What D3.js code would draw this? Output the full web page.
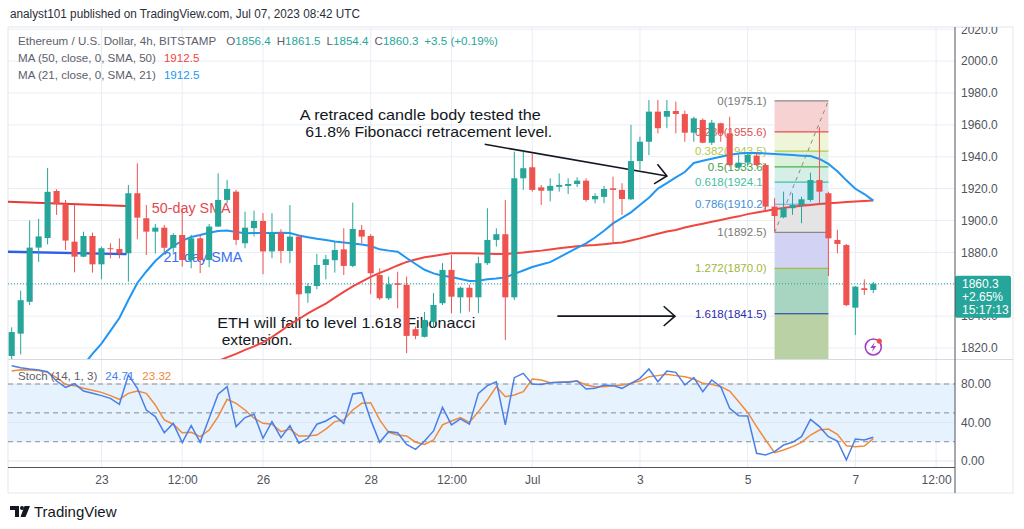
<!DOCTYPE html>
<html>
<head>
<meta charset="utf-8">
<script src="https://cdn.jsdelivr.net/npm/d3@7"></script>
<style>
  body { margin: 0; background: #fff; }
  text { font-family: "Liberation Sans", Arial, sans-serif; }
</style>
</head>
<body>
<div id="chart-area"></div>
<script>
// ETH/USD 4h bars, Jun 21 08:00 -> Jul 7 08:00 (UTC)
const START = Date.UTC(2023, 5, 21, 8)
const BAR = 4 * 3600 * 1000

const opens = [1815, 1829, 1849, 1883, 1889, 1918.5, 1910.2, 1886.7, 1877.3, 1890.3,
  1872.5, 1882.6, 1882.1, 1879.4, 1917.1, 1901.4, 1893, 1895.5, 1882.9, 1890.9,
  1875.2, 1888.8, 1875.2, 1896.2, 1912.9, 1918.1, 1885.7, 1895.2, 1899.7, 1880.6,
  1892.3, 1880.9, 1889.9, 1854.3, 1858.9, 1872.1, 1875.1, 1881.9, 1871.5, 1894.1,
  1890.3, 1865.8, 1851.2, 1860.6, 1859.6, 1831.8, 1827, 1836.3, 1848.1, 1869,
  1851.8, 1857.8, 1851.8, 1873.2, 1887.8, 1891.4, 1851.8, 1926.5, 1933.4, 1920.8,
  1918.7, 1921.1, 1921.7, 1922.9, 1925, 1913.3, 1914.8, 1920.2, 1919.2, 1913.3,
  1937.3, 1949.4, 1968.3, 1965.1, 1968.7, 1966.8, 1955.1, 1963.1, 1948.8, 1961,
  1954.7, 1933.4, 1936.3, 1940.7, 1934.8, 1908.7, 1902, 1907.7, 1909.7, 1912.9,
  1925.4, 1917.1, 1887.8, 1884.6, 1845.3, 1857.5, 1856.4]
const highs = [1833, 1856, 1900, 1901, 1933, 1919.6, 1912.9, 1910.2, 1893, 1892.4,
  1883.6, 1885.7, 1888.8, 1922.3, 1935.9, 1909.7, 1897.8, 1897.2, 1892, 1907.7,
  1891, 1891, 1897.8, 1929.6, 1925.5, 1919.2, 1905.5, 1906.2, 1904.6, 1904.6,
  1894.5, 1909.7, 1890.9, 1860.6, 1879, 1878.4, 1886.7, 1895.1, 1911.2, 1897.2,
  1891.4, 1870, 1864.8, 1867.9, 1864.8, 1833.4, 1842.6, 1854.5, 1873.2, 1878.4,
  1858.5, 1859.6, 1877.3, 1907.7, 1895.1, 1912.9, 1943.2, 1943.2, 1942.2, 1922.3,
  1926.5, 1929.6, 1926.5, 1927.1, 1926.5, 1917.1, 1921.8, 1927.5, 1923.4, 1960,
  1952.6, 1975.6, 1975.6, 1975.6, 1974.6, 1968.9, 1965.1, 1964.1, 1963.1, 1961.4,
  1965.1, 1941.1, 1942.2, 1942.2, 1935.9, 1914, 1918.1, 1917.1, 1914.9, 1930,
  1958.5, 1918.1, 1894.1, 1885.3, 1858.9, 1863.1, 1861.5]
const lows = [1810, 1816, 1847, 1874, 1885, 1903.5, 1881.5, 1867.5, 1877, 1867.3,
  1863.1, 1876.3, 1876.3, 1861.6, 1888.2, 1878.4, 1879.3, 1879.9, 1879.9, 1871,
  1870, 1867, 1870.7, 1896, 1910.9, 1884.6, 1882.6, 1890, 1866.3, 1876.3,
  1873.2, 1873.2, 1839.7, 1848.4, 1856.9, 1863.1, 1867.3, 1865.8, 1870.7, 1885.7,
  1853.7, 1850.1, 1850.1, 1844.9, 1816.7, 1825.5, 1826.6, 1832.6, 1847, 1841.8,
  1841.8, 1842.8, 1841.8, 1872.1, 1883.6, 1825, 1850.1, 1919.2, 1918.1, 1909.7,
  1912, 1918.1, 1916.6, 1921, 1911.8, 1910.8, 1910.8, 1885.3, 1903.5, 1912.9,
  1931.7, 1941, 1954.7, 1957.9, 1954.7, 1949.4, 1949.4, 1948.5, 1947.4, 1949.4,
  1933.8, 1932.8, 1933.8, 1934.2, 1906.6, 1893, 1901.4, 1903.5, 1898.3, 1911.8,
  1909.7, 1865.2, 1879.4, 1846.3, 1828.2, 1853.3, 1854.4]
const closes = [1830, 1850, 1883, 1890, 1918, 1910.2, 1887.4, 1877.3, 1890.3, 1872.5,
  1882.6, 1882, 1879.4, 1917.1, 1901.8, 1893, 1895.5, 1882.9, 1890.9, 1875.2,
  1888.8, 1875.2, 1896.2, 1912.9, 1919.8, 1887.8, 1895.5, 1899.7, 1880.6, 1892.3,
  1880.9, 1889.9, 1853.7, 1858.9, 1872.1, 1875.7, 1881.5, 1871.5, 1894.7, 1889.9,
  1866.9, 1851.2, 1860, 1859.6, 1827.6, 1827.6, 1837.6, 1847, 1869, 1852.2,
  1857.8, 1851.8, 1873.2, 1887.8, 1891.4, 1851.8, 1926.5, 1932.8, 1919.2, 1918.7,
  1921.7, 1922.3, 1922.9, 1925, 1912.9, 1915.4, 1919.8, 1919.2, 1913.5, 1937.3,
  1949.4, 1968.3, 1957.9, 1968.7, 1966.8, 1955.1, 1964.1, 1948.8, 1961.4, 1954.7,
  1934.8, 1936.3, 1941.1, 1934.8, 1908.7, 1902.8, 1907.7, 1909.7, 1913.3, 1925.4,
  1918.1, 1888.8, 1885.3, 1846.9, 1858.5, 1856.4, 1860.3]

const ma21 = [null, null, null, null, null, null, null, null, 1809.4, 1816.3,
  1822.8, 1830.7, 1838.8, 1850.1, 1860.8, 1868, 1874.6, 1879.6, 1884, 1887.2,
  1889.7, 1890.9, 1892.3, 1893.4, 1893.7, 1892.8, 1892, 1892.1, 1892.2, 1892.2,
  1892.3, 1892.2, 1890.6, 1889.5, 1888.5, 1887.7, 1886.8, 1886.2, 1885.6, 1885,
  1884, 1881.9, 1881.1, 1880.4, 1876.5, 1872.7, 1869.1, 1866.8, 1865.4, 1864.6,
  1863.3, 1862.1, 1862.2, 1863.1, 1863.6, 1864.3, 1866.5, 1868.6, 1870.8, 1872.4,
  1873.9, 1876.8, 1879.9, 1882.8, 1885.7, 1889.3, 1893.6, 1898.2, 1901.6, 1905.1,
  1909.7, 1914.3, 1920, 1923.5, 1927.1, 1930.4, 1936.1, 1937.5, 1938.8, 1940,
  1941.2, 1942, 1942.4, 1942.4, 1942.1, 1941.7, 1941.4, 1941.1, 1940.7, 1940.4,
  1938.6, 1935.5, 1930.9, 1925.2, 1919.9, 1916.6, 1912.5]
const ma50 = [null, null, null, null, null, null, null, null, null, null,
  null, null, null, null, null, null, null, null, null, null,
  null, null, null, 1811.9, 1814.1, 1816.3, 1818.8, 1821, 1823.5, 1826.9,
  1830.7, 1834.8, 1838.2, 1841.7, 1844.8, 1847.9, 1851.6, 1855.2, 1858.6, 1861.7,
  1864.6, 1867.1, 1869.3, 1871.8, 1874, 1875.5, 1876.9, 1877.7, 1878.6, 1879.4,
  1879.4, 1879.4, 1879.3, 1879.1, 1879, 1879, 1879.4, 1879.9, 1880.6, 1881.1,
  1881.8, 1882.6, 1883.2, 1883.8, 1884.3, 1884.6, 1885.1, 1885.7, 1886.2, 1887.5,
  1888.8, 1890.3, 1891.7, 1893.1, 1894.1, 1895.6, 1896.9, 1898, 1899.2, 1900.3,
  1901.6, 1902.6, 1904, 1905, 1906, 1907.1, 1907.9, 1908.7, 1909.2, 1909.7,
  1910.4, 1910.9, 1911.2, 1911.6, 1911.9, 1912.2, 1912.5]

const stochK = [99, 97, 95.6, 94.5, 92.8, 83.1, 76.5, 80.3, 72.7, 70.3,
  67.9, 65.1, 58.9, 89.4, 75.5, 53, 46.1, 29.4, 39.1, 19.2,
  36.8, 19.5, 44.4, 69.3, 77.2, 35.7, 45.1, 48.5, 23.6, 40.9,
  24.3, 36.8, 18.5, 23.6, 38.2, 41.6, 47.2, 39.1, 69.6, 71,
  42.7, 19.5, 30.5, 29.4, 17.3, 12.1, 20.8, 31.2, 55.7, 37.5,
  43.7, 38.2, 70.3, 78.3, 82.4, 37.5, 86.6, 91.1, 80, 79.6,
  81.4, 81.7, 81.7, 83.1, 74.8, 75.5, 79, 78.3, 75.5, 80.7,
  85.9, 95.6, 82.4, 93.5, 92.1, 79, 86.6, 72, 84.2, 77.2,
  54.7, 47.1, 46.8, 8, 6.2, 9.7, 16.6, 19.4, 25.3, 43.3,
  35.7, 25.3, 20.8, 1.1, 22.9, 21.8, 24.71]
const stochD = [93.5, 94.9, 94.5, 93.9, 92.1, 86.6, 79.6, 78.3, 75.5, 73.4,
  71.3, 67.9, 64.1, 70.3, 72.7, 70.3, 58.2, 42.7, 38.2, 29.4,
  29.8, 25.3, 32.2, 46.1, 64.1, 59.9, 53, 44.4, 39.1, 38.2,
  30.5, 33.2, 26, 26, 27, 33.2, 40.9, 42.7, 53, 59.9,
  60.6, 42.7, 29.8, 27, 26, 19.5, 17.3, 21.8, 37.5, 41.6,
  45.1, 40.2, 51.3, 63.4, 77.2, 66.8, 68.6, 72, 85.2, 84.2,
  81.4, 81.7, 82.4, 83.1, 79, 77.2, 77.2, 78.3, 79, 80.7,
  83.1, 87.6, 88.7, 90, 88.7, 87.6, 85.2, 80.7, 79.6, 77.2,
  72.7, 61.6, 50.5, 35.7, 21.8, 8.7, 11.5, 14.9, 19.4, 27,
  32.2, 33.2, 27.7, 15.9, 14.9, 15.6, 23.32]

const timeTicks = [Date.UTC(2023, 5, 23), Date.UTC(2023, 5, 24, 12), Date.UTC(2023, 5, 26),
  Date.UTC(2023, 5, 28), Date.UTC(2023, 5, 29, 12), Date.UTC(2023, 6, 1), Date.UTC(2023, 6, 3),
  Date.UTC(2023, 6, 5), Date.UTC(2023, 6, 7), Date.UTC(2023, 6, 8, 12)]
const timeLabels = ["23", "12:00", "26", "28", "12:00", "Jul", "3", "5", "7", "12:00"]
const priceTicks = [1820, 1840, 1860, 1880, 1900, 1920, 1940, 1960, 1980, 2000, 2020]
const stochTicks = [0, 40, 80]
const stochLevels = [80, 50, 20]

// fibonacci tool, anchored from bar 85 (level 1) to bar 91 (level 0)
const fibRatios = [0, 0.236, 0.382, 0.5, 0.618, 0.786, 1, 1.272, 1.618, 2.618]
const fibPrices = [1975.1, 1955.6, 1943.5, 1933.6, 1924.1, 1910.2, 1892.5, 1870.0, 1841.5, 1758.9]
const fibLine = ["#8a8a8a", "#e05050", "#b3c74a", "#4caf50", "#3fbfa0", "#5aa6e6", "#8a8a8a", "#a9bb3c", "#1f2fa8", "#8a8a8a"]
const fibText = ["#787878", "#e05050", "#b3c74a", "#43a047", "#45c0a0", "#3f8fd6", "#787878", "#a3b53a", "#2b2bb0", "#787878"]
const fibFill = ["#f6d2d2", "#eef5d9", "#dcf1dc", "#d6efe6", "#d6e9f6", "#e4e4e4", "#d2d2f4", "#a8d5c1", "#b9d1a5"]
const fibFrom = 85, fibTo = 91

const W = 1024, H = 529
const PANE = { LEFT: 8, RIGHT: 955, TOP: 27, BOTTOM: 359 }
const STO = { TOP: 360, BOTTOM: 467.5 }

const barTime = i => new Date(START + i * BAR)

const x = d3.scaleUtc()
  .domain([barTime(0), barTime(96)])
  .range([11.7, 873.3])
const y = d3.scaleLinear().domain([1820, 1980]).range([348, 93])
const ys = d3.scaleLinear().domain([0, 80]).range([461, 384])

const svg = d3.select("#chart-area").append("svg")
  .attr("width", W)
  .attr("height", H)

const defs = svg.append("defs")
defs.append("clipPath").attr("id", "clip-price").append("rect")
  .attr("x", PANE.LEFT).attr("y", PANE.TOP)
  .attr("width", PANE.RIGHT - PANE.LEFT).attr("height", PANE.BOTTOM - PANE.TOP)
defs.append("clipPath").attr("id", "clip-sto").append("rect")
  .attr("x", PANE.LEFT).attr("y", STO.TOP)
  .attr("width", PANE.RIGHT - PANE.LEFT).attr("height", STO.BOTTOM - STO.TOP)
defs.append("clipPath").attr("id", "clip-axis").append("rect")
  .attr("x", PANE.RIGHT).attr("y", PANE.TOP)
  .attr("width", 60).attr("height", PANE.BOTTOM - PANE.TOP)

// Header
svg.append("text")
  .attr("x", 10).attr("y", 18)
  .attr("font-size", "12px").attr("fill", "#2a2e39")
  .attr("textLength", 350).attr("lengthAdjust", "spacingAndGlyphs")
  .text("analyst101 published on TradingView.com, Jul 07, 2023 08:42 UTC")

// Frame
svg.append("rect")
  .attr("x", 8).attr("y", 27).attr("width", 1005).attr("height", 466)
  .attr("fill", "#fff").attr("stroke", "#e3e6ee")

// Grid
const grid = svg.append("g")
grid.selectAll(".vgrid").data(timeTicks).enter().append("line")
  .attr("x1", d => x(d)).attr("x2", d => x(d))
  .attr("y1", PANE.TOP).attr("y2", STO.BOTTOM)
  .attr("stroke", "#e9edf4")
grid.append("g").attr("clip-path", "url(#clip-price)")
  .selectAll("line").data(priceTicks).enter().append("line")
  .attr("x1", PANE.LEFT).attr("x2", PANE.RIGHT)
  .attr("y1", d => y(d)).attr("y2", d => y(d))
  .attr("stroke", "#e9edf4")

// Fibonacci fills, lines, labels
const fib = svg.append("g").attr("clip-path", "url(#clip-price)")
const fx0 = x(barTime(fibFrom)), fx1 = x(barTime(fibTo))
fib.selectAll("rect").data(fibFill).enter().append("rect")
  .attr("x", fx0).attr("width", fx1 - fx0)
  .attr("y", (d, i) => y(fibPrices[i]))
  .attr("height", (d, i) => y(fibPrices[i + 1]) - y(fibPrices[i]))
  .attr("fill", d => d)
fib.selectAll(".fl").data(fibPrices).enter().append("line")
  .attr("x1", fx0).attr("x2", fx1)
  .attr("y1", d => y(d)).attr("y2", d => y(d))
  .attr("stroke", (d, i) => fibLine[i]).attr("stroke-width", 1.2)
fib.selectAll(".ft").data(fibPrices).enter().append("text")
  .attr("x", fx0 - 8).attr("y", d => y(d))
  .attr("dy", "0.35em").attr("text-anchor", "end")
  .attr("font-size", "11.5px")
  .attr("fill", (d, i) => fibText[i])
  .text((d, i) => `${fibRatios[i]}(${d.toFixed(1)})`)
fib.append("line")
  .attr("x1", fx0).attr("y1", y(fibPrices[6]))
  .attr("x2", fx1).attr("y2", y(fibPrices[0]))
  .attr("stroke", "#8a8a8a").attr("stroke-dasharray", "4,4")

// Annotations (anchored to bar index / price)
const px = i => x(new Date(START + i * BAR))
const notes = svg.append("g").attr("clip-path", "url(#clip-price)")

const segs = [
  { a: [-0.6, 1911.8], b: [12.8, 1909.1], color: "#e53935", w: 2 },
  { a: [-0.6, 1880.4], b: [12.8, 1878.9], color: "#2f5ee8", w: 2.4 },
]
segs.forEach(s => {
  notes.append("line")
    .attr("x1", px(s.a[0])).attr("y1", y(s.a[1]))
    .attr("x2", px(s.b[0])).attr("y2", y(s.b[1]))
    .attr("stroke", s.color).attr("stroke-width", s.w)
})

const arrows = [
  { a: [52.7, 1947.8], b: [73.0, 1927.9] },
  { a: [60.8, 1840.0], b: [73.9, 1840.0] },
]
arrows.forEach(s => {
  const x1 = px(s.a[0]), y1 = y(s.a[1]), x2 = px(s.b[0]), y2 = y(s.b[1])
  const ang = Math.atan2(y2 - y1, x2 - x1)
  const L = 15
  notes.append("line")
    .attr("x1", x1).attr("y1", y1).attr("x2", x2).attr("y2", y2)
    .attr("stroke", "#131722").attr("stroke-width", 1.6)
  notes.append("path")
    .attr("d", `M${x2 + L * Math.cos(ang + Math.PI - 0.72)},${y2 + L * Math.sin(ang + Math.PI - 0.72)}L${x2},${y2}L${x2 + L * Math.cos(ang + Math.PI + 0.72)},${y2 + L * Math.sin(ang + Math.PI + 0.72)}`)
    .attr("fill", "none").attr("stroke", "#131722").attr("stroke-width", 1.6)
})

const labels = [
  { t: "A retraced candle body tested the", at: [32.1, 1963.1], color: "#131722", size: 15, len: 241 },
  { t: "61.8% Fibonacci retracement level.", at: [32.7, 1952.7], color: "#131722", size: 15, len: 247 },
  { t: "ETH will fall to level 1.618 Fibonacci", at: [22.9, 1832.6], color: "#131722", size: 15, len: 258 },
  { t: "extension.", at: [23.4, 1821.9], color: "#131722", size: 15, len: 71 },
  { t: "50-day SMA", at: [15.6, 1904.7], color: "#e5484d", size: 15, len: 79 },
  { t: "21-day SMA", at: [16.9, 1874.0], color: "#3b6ff0", size: 15, len: 79 },
]
labels.forEach(l => {
  notes.append("text")
    .attr("x", px(l.at[0])).attr("y", y(l.at[1]))
    .attr("font-size", l.size + "px").attr("fill", l.color)
    .attr("textLength", l.len).attr("lengthAdjust", "spacingAndGlyphs")
    .text(l.t)
})

// Last price dotted line
svg.append("line")
  .attr("x1", PANE.LEFT).attr("x2", PANE.RIGHT)
  .attr("y1", y(closes[96])).attr("y2", y(closes[96]))
  .attr("stroke", "#26a69a").attr("stroke-dasharray", "1,2")

// Moving averages
const idx = d3.range(opens.length)
const maLine = arr => d3.line()
  .defined(i => arr[i] != null)
  .x(i => x(barTime(i)))
  .y(i => y(arr[i]))
const lines = svg.append("g").attr("clip-path", "url(#clip-price)")
lines.append("path").attr("d", maLine(ma50)(idx))
  .attr("fill", "none").attr("stroke", "#f0463f").attr("stroke-width", 2)
lines.append("path").attr("d", maLine(ma21)(idx))
  .attr("fill", "none").attr("stroke", "#2196f3").attr("stroke-width", 2)

// Candles
const bw = (x(barTime(1)) - x(barTime(0))) * 0.68
const candles = svg.append("g").attr("clip-path", "url(#clip-price)")
  .selectAll("g").data(idx).enter().append("g")
const col = i => closes[i] >= opens[i] ? "#26a69a" : "#ef5350"
candles.append("line")
  .attr("x1", i => x(barTime(i))).attr("x2", i => x(barTime(i)))
  .attr("y1", i => y(highs[i])).attr("y2", i => y(lows[i]))
  .attr("stroke", col).attr("stroke-width", 1)
candles.append("rect")
  .attr("x", i => x(barTime(i)) - bw / 2)
  .attr("width", bw)
  .attr("y", i => y(Math.max(opens[i], closes[i])))
  .attr("height", i => Math.max(1, Math.abs(y(opens[i]) - y(closes[i]))))
  .attr("fill", col)

// Legend
const leg = svg.append("g").attr("font-size", "11.6px")
const l1 = leg.append("text").attr("x", 18).attr("y", 45).attr("fill", "#5d606b")
l1.append("tspan").text("Ethereum / U.S. Dollar, 4h, BITSTAMP")
const ohlc = [["O", opens[96]], ["H", highs[96]], ["L", lows[96]], ["C", closes[96]]]
ohlc.forEach((d, i) => {
  l1.append("tspan").attr("dx", i === 0 ? 10 : 6).attr("fill", "#5d606b").text(d[0])
  l1.append("tspan").attr("fill", "#26a69a").text(d[1].toFixed(1))
})
l1.append("tspan").attr("dx", 6).attr("fill", "#26a69a").text("+3.5 (+0.19%)")
const l2 = leg.append("text").attr("x", 18).attr("y", 62).attr("fill", "#5d606b")
l2.append("tspan").text("MA (50, close, 0, SMA, 50)")
l2.append("tspan").attr("dx", 8).attr("fill", "#f0463f").text(ma50[96].toFixed(1))
const l3 = leg.append("text").attr("x", 18).attr("y", 79).attr("fill", "#5d606b")
l3.append("tspan").text("MA (21, close, 0, SMA, 21)")
l3.append("tspan").attr("dx", 8).attr("fill", "#2196f3").text(ma21[96].toFixed(1))

// Price axis
const yAxis = svg.append("g")
  .attr("clip-path", "url(#clip-axis)")
  .append("g")
  .attr("transform", `translate(${PANE.RIGHT}, 0)`)
  .call(d3.axisRight(y).tickValues(priceTicks).tickFormat(d3.format(".1f")).tickSize(0).tickPadding(6))
yAxis.select(".domain").remove()
yAxis.selectAll("text").attr("fill", "#50535e").attr("font-size", "12px")
  .attr("font-family", "Liberation Sans, Arial, sans-serif")

// Last price badge
const by = y(closes[96])
svg.append("rect")
  .attr("x", PANE.RIGHT).attr("y", by - 8).attr("width", 56).attr("height", 42)
  .attr("rx", 2).attr("fill", "#26a69a")
const badge = ["1860.3", "+2.65%", "15:17:13"]
svg.append("g").selectAll("text").data(badge).enter().append("text")
  .attr("x", PANE.RIGHT + 7).attr("y", (d, i) => by + 4.5 + i * 13)
  .attr("font-size", "12px").attr("fill", "#fff")
  .text(d => d)

// Pane separator
svg.append("line")
  .attr("x1", PANE.LEFT).attr("x2", 1013)
  .attr("y1", PANE.BOTTOM + 0.5).attr("y2", PANE.BOTTOM + 0.5)
  .attr("stroke", "#d6dae3")

// Stochastic pane
const sto = svg.append("g").attr("clip-path", "url(#clip-sto)")
sto.append("rect")
  .attr("x", PANE.LEFT).attr("width", PANE.RIGHT - PANE.LEFT)
  .attr("y", ys(80)).attr("height", ys(20) - ys(80))
  .attr("fill", "#e6f2fd")
sto.selectAll(".sg").data(stochTicks).enter().append("line")
  .attr("x1", PANE.LEFT).attr("x2", PANE.RIGHT)
  .attr("y1", d => ys(d)).attr("y2", d => ys(d))
  .attr("stroke", "#dfe6f0")
sto.selectAll(".sl").data(stochLevels).enter().append("line")
  .attr("x1", PANE.LEFT).attr("x2", PANE.RIGHT)
  .attr("y1", d => ys(d)).attr("y2", d => ys(d))
  .attr("stroke", "#888c96").attr("stroke-dasharray", "5,4")
const stoLine = arr => d3.line().x(i => x(barTime(i))).y(i => ys(arr[i]))
sto.append("path").attr("d", stoLine(stochD)(idx))
  .attr("fill", "none").attr("stroke", "#f08a3c").attr("stroke-width", 1.5)
sto.append("path").attr("d", stoLine(stochK)(idx))
  .attr("fill", "none").attr("stroke", "#4a7ee8").attr("stroke-width", 1.5)

const sl = svg.append("text").attr("x", 18).attr("y", 380).attr("font-size", "11.6px").attr("fill", "#5d606b")
sl.append("tspan").text("Stoch (14, 1, 3)")
sl.append("tspan").attr("dx", 8).attr("fill", "#4a7ee8").text(stochK[96].toFixed(2))
sl.append("tspan").attr("dx", 8).attr("fill", "#f08a3c").text(stochD[96].toFixed(2))

const sAxis = svg.append("g")
  .attr("transform", `translate(${PANE.RIGHT}, 0)`)
  .call(d3.axisRight(ys).tickValues(stochTicks).tickFormat(d3.format(".2f")).tickSize(0).tickPadding(6))
sAxis.select(".domain").remove()
sAxis.selectAll("text").attr("fill", "#50535e").attr("font-size", "12px")
  .attr("font-family", "Liberation Sans, Arial, sans-serif")

// Time axis
svg.append("line")
  .attr("x1", PANE.LEFT).attr("x2", PANE.RIGHT)
  .attr("y1", STO.BOTTOM).attr("y2", STO.BOTTOM)
  .attr("stroke", "#50535e")
svg.append("line")
  .attr("x1", PANE.RIGHT).attr("x2", PANE.RIGHT)
  .attr("y1", PANE.TOP).attr("y2", 493)
  .attr("stroke", "#50535e")
const xAxis = svg.append("g")
  .attr("transform", `translate(0, ${STO.BOTTOM})`)
  .call(d3.axisBottom(x).tickValues(timeTicks.map(d => new Date(d)))
    .tickFormat((d, i) => timeLabels[i]).tickSize(0).tickPadding(8))
xAxis.select(".domain").remove()
xAxis.selectAll("text").attr("fill", "#50535e").attr("font-size", "12px")
  .attr("font-family", "Liberation Sans, Arial, sans-serif")

// Lightning badge
const lg = svg.append("g").attr("transform", `translate(${px(96)}, 347)`)
lg.append("circle").attr("r", 8).attr("fill", "#fff").attr("stroke", "#a43fc4").attr("stroke-width", 1.6)
lg.append("path").attr("d", "M1.5,-5L-3,1H0L-1.5,5L3,-1H0Z").attr("fill", "#a43fc4")
lg.append("circle").attr("cx", 6).attr("cy", -6).attr("r", 2.6).attr("fill", "#f04a55")

// Footer logo
const logo = svg.append("g").attr("fill", "#131722")
logo.append("path").attr("d", "M10,506H19V517H15V510H10Z")
logo.append("circle").attr("cx", 22).attr("cy", 508).attr("r", 2)
logo.append("path").attr("d", "M24.5,506H30L25.5,517H20.5Z")
svg.append("text")
  .attr("x", 34).attr("y", 516.5)
  .attr("font-size", "15px").attr("fill", "#131722")
  .text("TradingView")
</script>
</body>
</html>
